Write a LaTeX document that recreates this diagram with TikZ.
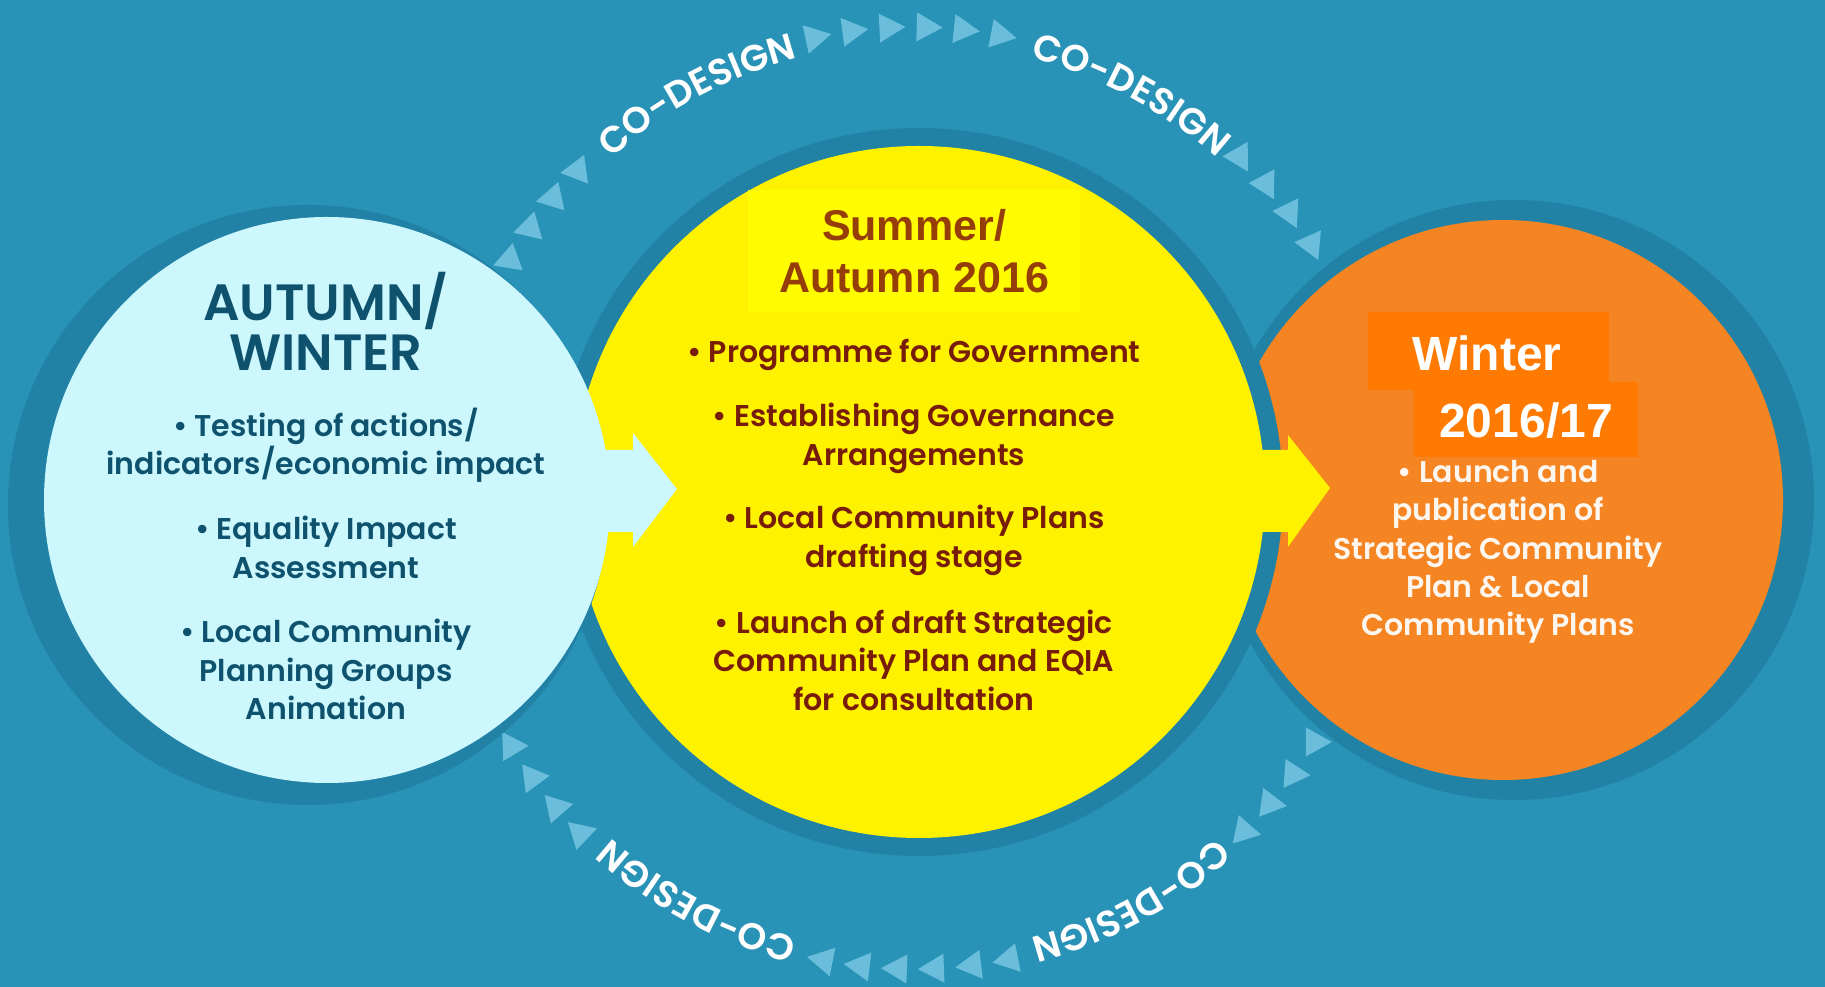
\documentclass[tikz,border=0pt]{standalone}
\usepackage{fontspec}
\setmainfont{Poppins}[BoldFont={Poppins SemiBold}]
\newfontfamily\arialfont{Liberation Sans}
\usetikzlibrary{decorations.text}
\definecolor{bgc}{RGB}{41,146,183}
\definecolor{ringc}{RGB}{34,130,165}
\definecolor{lightc}{RGB}{204,247,253}
\definecolor{yelc}{RGB}{255,242,0}
\definecolor{yboxc}{RGB}{255,251,0}
\definecolor{orc}{RGB}{245,132,35}
\definecolor{oboxc}{RGB}{255,122,0}
\definecolor{tric}{RGB}{106,190,219}
\definecolor{tealc}{RGB}{14,82,110}
\definecolor{brownc}{RGB}{150,62,8}
\definecolor{redbc}{RGB}{120,28,10}
\definecolor{whitec}{RGB}{252,246,238}
\newcommand{\codefont}{\bfseries\fontsize{37}{37}\selectfont\color{white}}
\begin{document}
\begin{tikzpicture}[x=1pt,y=1pt,
  disc/.style={circle,inner sep=0pt,draw=none},
  tri/.style={fill=tric},
  ltitle/.style={font=\bfseries\fontsize{51}{50}\selectfont,text=tealc,align=center,inner sep=0pt},
  lbody/.style={font=\bfseries\fontsize{30}{38.4}\selectfont,text=tealc,align=center,inner sep=0pt},
  ytitle/.style={font=\arialfont\bfseries\fontsize{43}{52}\selectfont,text=brownc,align=center,inner sep=0pt},
  ybody/.style={font=\bfseries\fontsize{30}{38.4}\selectfont,text=redbc,align=center,inner sep=0pt},
  otitle/.style={font=\arialfont\bfseries\fontsize{48}{48}\selectfont,text=white,inner sep=0pt},
  obody/.style={font=\bfseries\fontsize{30}{38.4}\selectfont,text=whitec,align=center,inner sep=0pt},
  codesign/.style={decorate,decoration={text along path,text align=center,text={|\codefont|CO-DESIGN}}}
]
\useasboundingbox (0,0) rectangle (1825,987);
\fill[bgc] (0,0) rectangle (1825,987);

% CO-DESIGN cycle
\begin{scope}[shift={(914,489)}]
  \foreach \a in {101.95,97.4,92.87,88.33,83.8,79.25,258.7,263.25,267.8,272.3,276.85,281.4}
    \fill[tri,shift={(\a:471)},rotate=\a-90] (15,0) -- (-11,14.5) -- (-11,-14.5) -- cycle;
  \foreach \a/\r in {149.7/200,145.1/196,140.5/192,136/188}
    \fill[tri,shift={(\a:471)},rotate=\r] (15,0) -- (-11,14.5) -- (-11,-14.5) -- cycle;
  \foreach \a/\r in {46.1/-60,41.5/-62,37/-64,32.3/-66}
    \fill[tri,shift={(\a:471)},rotate=\r] (15,0) -- (-11,14.5) -- (-11,-14.5) -- cycle;
  \foreach \a/\r in {328.8/0,324.1/-4,319.5/-8,314.9/-12}
    \fill[tri,shift={(\a:471)},rotate=\r] (15,0) -- (-11,14.5) -- (-11,-14.5) -- cycle;
  \foreach \a/\r in {211.8/2,216.4/7,221/12,225.3/17}
    \fill[tri,shift={(\a:471)},rotate=\r] (15,0) -- (-11,14.5) -- (-11,-14.5) -- cycle;
  \path[codesign] (141.75:455) arc[start angle=141.75,end angle=94.75,radius=455];
  \path[codesign] (85.25:455) arc[start angle=85.25,end angle=38.25,radius=455];
  \path[codesign] (321.75:455) arc[start angle=321.75,end angle=274.75,radius=455];
  \path[codesign] (265.25:455) arc[start angle=265.25,end angle=218.25,radius=455];
\end{scope}

% circles
\node[disc,fill=ringc,minimum size=600pt] (oring) at (1514,487) {};
\node[disc,fill=orc,minimum size=560pt] (orange) at (1503,487) {};
\node[disc,fill=ringc,minimum size=728pt] (yring) at (919,495) {};
\node[disc,fill=yelc,minimum size=692pt] (yellow) at (919,495) {};
\node[disc,fill=ringc,minimum size=600pt] (lring) at (308,482) {};
\node[disc,fill=lightc,minimum size=566pt] (light) at (327,487) {};

% arrows
\fill[lightc] (590,537) -- (633,537) -- (633,554) -- (677,498) -- (633,440) -- (633,455) -- (590,455) -- cycle;
\fill[yelc] (1240,537) -- (1288,537) -- (1288,552) -- (1330,499) -- (1288,440) -- (1288,455) -- (1240,455) -- cycle;

% left texts
\node[ltitle] (lt) at (326,666) {AUTUMN/\\WINTER};
\node[lbody] (lb1) at (326,542) {• Testing of actions/\\indicators/economic impact};
\node[lbody] (lb2) at (326,439.5) {• Equality Impact\\Assessment};
\node[lbody] (lb3) at (326,317.5) {• Local Community\\Planning Groups\\Animation};

% yellow texts
\fill[yboxc] (748,675) rectangle (1080,797);
\node[ytitle] (yt) at (914,736) {Summer/\\Autumn 2016};
\node[ybody] (yb1) at (914,632) {• Programme for Government};
\node[ybody] (yb2) at (914,548.5) {• Establishing Governance\\Arrangements};
\node[ybody] (yb3) at (914,446.5) {• Local Community Plans\\drafting stage};
\node[ybody] (yb4) at (914,327) {• Launch of draft Strategic\\Community Plan and EQIA\\for consultation};

% orange texts
\fill[oboxc] (1368,597) rectangle (1609,675);
\fill[oboxc] (1414,530) rectangle (1638,605);
\node[otitle] (ot1) at (1487,634) {Winter};
\node[otitle] (ot2) at (1526,566) {2016/17};
\node[obody] (ob) at (1498,435) {• Launch and\\publication of\\Strategic Community\\Plan \& Local\\Community Plans};
\end{tikzpicture}
\end{document}
